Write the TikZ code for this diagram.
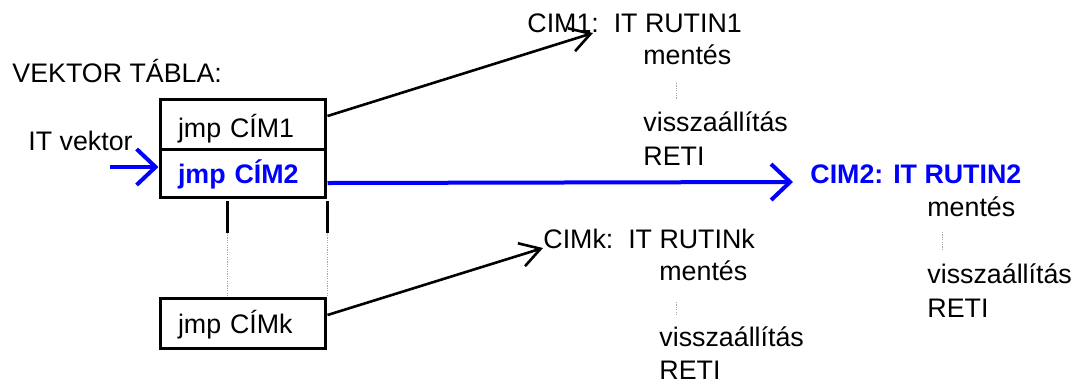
\documentclass[tikz,border=0pt]{standalone}
\usepackage{fontspec}
\setmainfont{Liberation Sans}
\usetikzlibrary{arrows.meta,calc}
\definecolor{itblue}{RGB}{0,0,255}
\begin{document}
\begin{tikzpicture}[x=0.5pt,y=-0.5pt,
  font=\fontsize{13.4pt}{16pt}\selectfont,
  txt/.style={anchor=base west, inner sep=0pt},
  vbox/.style={draw, line width=1.5pt, minimum width=82.5pt, inner xsep=9pt,
    inner ysep=0pt, text width=64.5pt, align=left},
  ptr/.style={line width=1.3pt, -{Straight Barb[length=10pt,width=12pt]}},
  hot/.style={itblue, line width=2pt, -{Straight Barb[length=9.5pt,width=18pt]}},
  gap/.style={gray!70, line width=0.5pt, dash pattern=on 0.6pt off 0.6pt}]
\useasboundingbox (0,0) rectangle (1078,382);

% vector table
\node[txt] (title) at (12,82) {VEKTOR TÁBLA:};
\node[txt] (itv) at (28,150) {IT vektor};
\node[vbox, minimum height=25pt, text height=15.5pt, text depth=2.5pt] (b1) at (242.5,124) {jmp CÍM1};
\node[vbox, minimum height=24pt, text height=12.5pt, text depth=2.5pt, text=itblue] (b2) at (242.5,173) {\bfseries jmp CÍM2};
\node[vbox, minimum height=25pt, text height=12.5pt, text depth=2.5pt] (b3) at (242.5,323) {jmp CÍMk};

% elided table entries
\draw[line width=1.5pt] ($(b2.south west)+(68.5,2)$) -- ++(0,32);
\draw[line width=1.5pt] ($(b2.south east)+(0.5,2)$) -- ++(0,32);
\draw[gap] ($(b2.south west)+(68.5,34)$) -- ($(b3.north west)+(68.5,0)$);
\draw[gap] ($(b2.south east)+(0.5,34)$) -- ($(b3.north east)+(0.5,0)$);

% routine 1
\node[txt] (r1) at (527,32) {CIM1:\ \ IT RUTIN1};
\node[txt] (m1) at (643,64) {mentés};
\node[txt] (v1) at (643,131) {visszaállítás};
\node[txt] (e1) at (643,165) {RETI};
\draw[gap] ($(m1.base west)+(33,19)$) -- ($(m1.base west)+(33,35)$);

% routine 2 (active)
\node[txt, text=itblue, font=\fontsize{13.4pt}{16pt}\selectfont\bfseries] (r2) at (810,183) {CIM2: IT RUTIN2};
\node[txt] (m2) at (927,216) {mentés};
\node[txt] (v2) at (927,283) {visszaállítás};
\node[txt] (e2) at (927,317) {RETI};
\draw[gap] ($(m2.base west)+(15,16)$) -- ($(m2.base west)+(15,33)$);

% routine k
\node[txt] (rk) at (543,248) {CIMk:\ \ IT RUTINk};
\node[txt] (mk) at (659,280) {mentés};
\node[txt] (vk) at (659,346) {visszaállítás};
\node[txt] (ek) at (659,379) {RETI};
\draw[gap] ($(mk.base west)+(17,22)$) -- ($(mk.base west)+(17,36)$);

% pointers
\coordinate (t1) at ($(r1.base west)+(66,1)$);
\draw[ptr] ($(b1.east)+(1,-8)$) -- (t1);
\draw[ptr] ($(b3.east)+(1,-8)$) -- (rk.base west);
\draw[hot] ($(b2.east)+(1,10)$) -- ($(r2.base west)+(-17,-1)$);
\coordinate (ivs) at (110,167);
\draw[hot] (ivs) -- (ivs -| b2.west);
\end{tikzpicture}
\end{document}
